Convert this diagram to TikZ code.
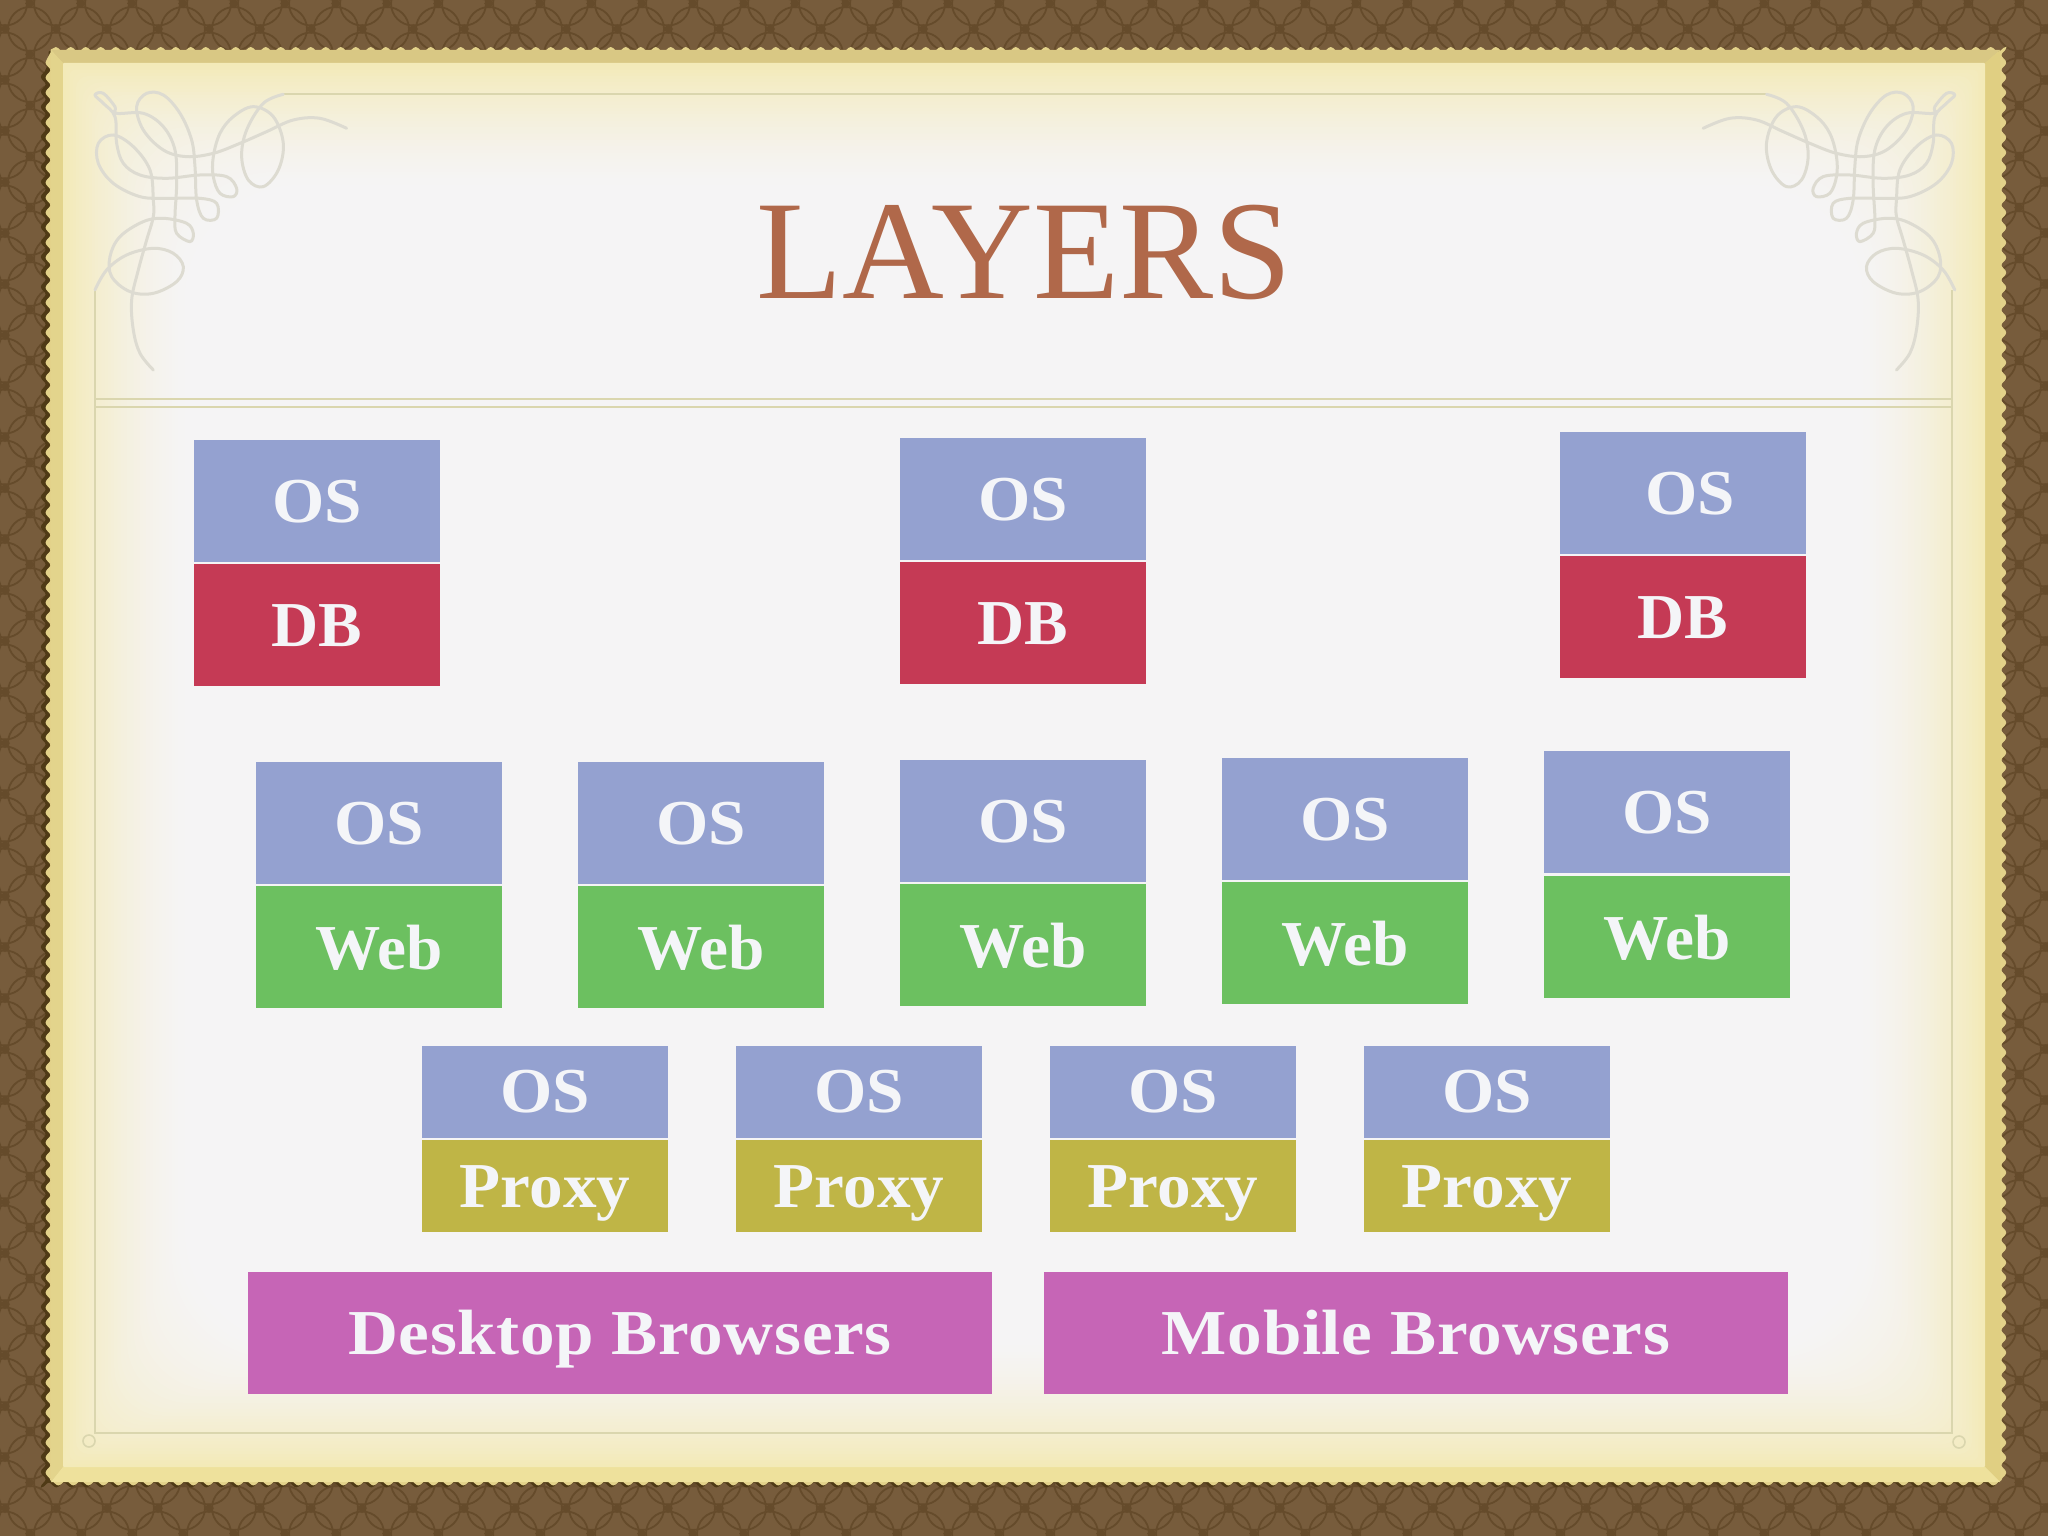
\documentclass[tikz,border=0pt]{standalone}
\usepackage{fontspec}
\setmainfont{Liberation Serif}
\usetikzlibrary{decorations.pathmorphing}
\definecolor{brownbg}{HTML}{775C3C}
\definecolor{brownln}{HTML}{654B2B}
\definecolor{frameA}{HTML}{E3D28A}
\definecolor{frameS}{HTML}{4F3A16}
\definecolor{bevT}{HTML}{D9C884}
\definecolor{bevL}{HTML}{E3D48C}
\definecolor{bevR}{HTML}{E0CF82}
\definecolor{bevB}{HTML}{EEE19C}
\definecolor{paperY}{HTML}{F3EAB8}
\definecolor{paperW}{HTML}{F5F4F5}
\definecolor{orn}{HTML}{DDDBD1}
\definecolor{rule}{HTML}{DAD6AE}
\definecolor{cOS}{HTML}{94A1D0}
\definecolor{cDB}{HTML}{C53A55}
\definecolor{cWeb}{HTML}{6CC060}
\definecolor{cProxy}{HTML}{BFB546}
\definecolor{cBrowser}{HTML}{C665B6}
\definecolor{cTitle}{HTML}{B0684A}
\definecolor{cText}{HTML}{F4F5F8}
\tikzset{
  layerbox/.style={inner sep=0pt,outer sep=0pt,minimum width=246pt,text=cText,
    font=\fontsize{64}{64}\selectfont\bfseries,text height=42pt,text depth=0pt,anchor=center},
  tall/.style={minimum height=122pt},
  short/.style={minimum height=92pt,text height=40pt},
  osbox/.style={layerbox,fill=cOS,font=\fontsize{64}{64}\selectfont\bfseries\addfontfeature{FakeStretch=1.05}},
  dbbox/.style={layerbox,fill=cDB,tall,font=\fontsize{64}{64}\selectfont\bfseries\addfontfeature{FakeStretch=1.02}},
  webbox/.style={layerbox,fill=cWeb,tall,text height=44pt,font=\fontsize{64}{64}\selectfont\bfseries\addfontfeature{FakeStretch=1.02}},
  proxybox/.style={layerbox,fill=cProxy,minimum height=92pt,font=\fontsize{64}{64}\selectfont\bfseries\addfontfeature{FakeStretch=1.05}},
  browserbox/.style={layerbox,fill=cBrowser,minimum height=122pt,minimum width=744pt,
    font=\fontsize{64}{64}\selectfont\bfseries\addfontfeature{FakeStretch=1.08,LetterSpace=1}},
  ornament/.style={orn,line width=3pt,line cap=round,line join=round},
  frameline/.style={rule,line width=1.6pt},
}
\newcommand{\ornpaths}{%
  \draw[ornament] plot[smooth,tension=0.6] coordinates {(1040,385) (960,355) (880,360) (800,395) (720,430) (640,460) (560,470) (490,450) (430,390) (410,320) (440,280) (490,285) (540,340) (575,420) (585,500) (590,600) (610,655) (650,655) (650,610) (600,595) (500,595) (420,590) (340,550) (295,490) (295,430) (340,405) (400,440) (450,510) (460,600) (460,650) (440,720) (415,810) (395,900) (400,990) (420,1060) (460,1110)};
  \draw[ornament] plot[smooth,tension=0.6] coordinates {(850,283) (790,310) (740,390) (725,470) (745,540) (790,560) (835,510) (850,430) (820,350) (760,320) (700,350) (660,400) (640,470) (640,530) (660,580) (700,590) (710,565) (680,530) (600,525) (500,535) (420,525) (370,490) (350,430) (345,350) (310,310) (285,285) (310,280) (345,320) (350,340) (430,340) (490,380) (525,450) (530,550) (525,650) (530,700) (570,725) (580,700) (560,670) (490,655) (430,665) (360,710) (330,770) (335,830) (390,875) (460,880) (530,845) (550,800) (520,760) (460,745) (380,765) (320,810) (285,870)};
}
\begin{document}
\begin{tikzpicture}[x=1pt,y=-1pt]
\useasboundingbox (0,0) rectangle (2048,1536);
\clip (0,0) rectangle (2048,1536);
% textured surround
\fill[brownbg] (0,0) rectangle (2048,1536);
\foreach \i in {-8,...,33}{
  \foreach \j in {-1,...,30}{
    \draw[brownln,line width=1.8pt] ({387+\i*51},{29+\j*51}) circle[radius=22];
    \draw[brownln,line width=1.8pt] ({362+\i*51},{3.5+\j*51}) circle[radius=22];
    \fill[brownln] ({362+\i*51},{29+\j*51}) +(-5,0) -- +(0,-5) -- +(5,0) -- +(0,5) -- cycle;
    \fill[brownln] ({387+\i*51},{3.5+\j*51}) +(-5,0) -- +(0,-5) -- +(5,0) -- +(0,5) -- cycle;
  }
}
% scalloped card
\draw[draw=frameS,fill=frameS,line width=1pt,
  decorate,decoration={snake,segment length=15pt,amplitude=2.4pt}]
  (49,52) -- (2002,52) -- (2002,1485) -- (49,1485) -- cycle;
\draw[draw=frameA,fill=frameA,line width=1pt,
  decorate,decoration={snake,segment length=15pt,amplitude=2.4pt}]
  (51,50) -- (2000,50) -- (2000,1482) -- (51,1482) -- cycle;
% bevels
\fill[bevT] (51,50) -- (2000,50) -- (1985,63) -- (63,63) -- cycle;
\fill[bevL] (51,50) -- (63,63) -- (63,1467) -- (51,1482) -- cycle;
\fill[bevR] (2000,50) -- (1985,63) -- (1985,1467) -- (2000,1482) -- cycle;
\fill[bevB] (63,1467) -- (1985,1467) -- (2000,1482) -- (51,1482) -- cycle;
% paper
\foreach \k in {0,...,40}{
  \pgfmathsetmacro{\pc}{100*(1-(1-\k/40)^1.6)}
  \pgfmathsetmacro{\ins}{\k*3.2}
  \pgfmathsetmacro{\rr}{1+\k*3}
  \fill[paperW!\pc!paperY,rounded corners=\rr pt]
    ({63+\ins},{63+\ins}) rectangle ({1985-\ins},{1467-\ins});
}
% thin rules
\draw[frameline] (283,94) -- (1767,94);
\draw[frameline] (95,290) -- (95,1433) -- (1952,1433) -- (1952,290);
\draw[frameline] (96,399) -- (1952,399);
\draw[frameline] (96,407) -- (1952,407);
\draw[frameline] (89,1441) circle[radius=6];
\draw[frameline] (1959,1442) circle[radius=6];
% ornaments
\begin{scope}[x=0.3333pt,y=-0.3333pt]
\ornpaths
\end{scope}
\begin{scope}[x=-0.3333pt,y=-0.3333pt,shift={(-6150,0)}]
\ornpaths
\end{scope}
% title
\node[inner sep=0pt,text=cTitle,font=\fontsize{141}{141}\selectfont,text height=96pt,text depth=0pt] (title) at (1024,250) {LAYERS};
% DB stacks
\node[osbox,tall] (os1) at (317,501) {OS};
\node[dbbox] (db1) at (317,625) {DB};
\node[osbox,tall] (os2) at (1023,499) {OS};
\node[dbbox] (db2) at (1023,623) {DB};
\node[osbox,tall] (os3) at (1683,493) {\hspace*{14pt}OS};
\node[dbbox] (db3) at (1683,617) {DB};
% Web stacks
\node[osbox,tall] (os4) at (379,823) {OS};
\node[webbox] (web1) at (379,947) {Web};
\node[osbox,tall] (os5) at (701,823) {OS};
\node[webbox] (web2) at (701,947) {Web};
\node[osbox,tall] (os6) at (1023,821) {OS};
\node[webbox] (web3) at (1023,945) {Web};
\node[osbox,tall] (os7) at (1345,819) {OS};
\node[webbox] (web4) at (1345,943) {Web};
\node[osbox,tall] (os8) at (1667,812) {OS};
\node[webbox] (web5) at (1667,937) {Web};
% Proxy stacks
\node[osbox,short] (os9) at (545,1092) {OS};
\node[proxybox] (px1) at (545,1186) {Proxy};
\node[osbox,short] (os10) at (859,1092) {OS};
\node[proxybox] (px2) at (859,1186) {Proxy};
\node[osbox,short] (os11) at (1173,1092) {OS};
\node[proxybox] (px3) at (1173,1186) {Proxy};
\node[osbox,short] (os12) at (1487,1092) {OS};
\node[proxybox] (px4) at (1487,1186) {Proxy};
% Browsers
\node[browserbox] (desk) at (620,1333) {Desktop Browsers};
\node[browserbox] (mob) at (1416,1333) {Mobile Browsers};
\end{tikzpicture}
\end{document}
